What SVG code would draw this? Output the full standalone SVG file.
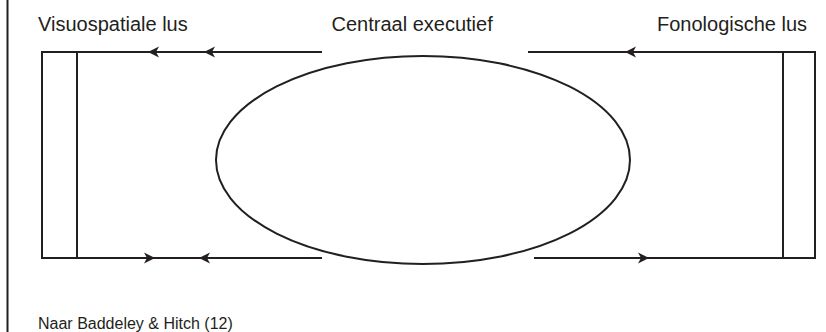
<svg xmlns="http://www.w3.org/2000/svg" xmlns:xlink="http://www.w3.org/1999/xlink" width="826" height="332" viewBox="0 0 826 332">
  <style>
    .ln { stroke: #231f20; stroke-width: 2; fill: none; }
    .lbl { font-family: "Liberation Sans", Arial, sans-serif; font-size: 20px; fill: #231f20; }
    .src { font-family: "Liberation Sans", Arial, sans-serif; font-size: 16px; fill: #231f20; }
    .ah { fill: #231f20; }
  </style>
  <defs>
    <path id="ahL" class="ah" d="M0,0 L11,-5.5 L8,0 L11,5.5 Z"/>
  </defs>
  <rect x="0" y="0" width="826" height="332" fill="#ffffff"/>
  <line class="ln" x1="7.5" y1="0" x2="7.5" y2="332"/>

  <g id="visuospatiale-lus">
    <line class="ln" x1="42" y1="51" x2="42" y2="259"/>
    <line class="ln" x1="77" y1="53" x2="77" y2="258"/>
    <text class="lbl" x="38" y="31">Visuospatiale lus</text>
  </g>

  <g id="centraal-executief">
    <ellipse class="ln" cx="423" cy="160" rx="207" ry="104"/>
    <text class="lbl" x="331.5" y="31">Centraal executief</text>
  </g>

  <g id="fonologische-lus">
    <line class="ln" x1="783" y1="53" x2="783" y2="258"/>
    <line class="ln" x1="815" y1="51" x2="815" y2="259"/>
    <text class="lbl" x="657" y="31">Fonologische lus</text>
  </g>

  <g id="connectors">
    <line class="ln" x1="41" y1="52" x2="322" y2="52"/>
    <line class="ln" x1="41" y1="258" x2="322" y2="258"/>
    <line class="ln" x1="528" y1="52" x2="816" y2="52"/>
    <line class="ln" x1="534" y1="258" x2="816" y2="258"/>
    <use xlink:href="#ahL" transform="translate(148,52)"/>
    <use xlink:href="#ahL" transform="translate(204,52)"/>
    <use xlink:href="#ahL" transform="translate(625,52)"/>
    <use xlink:href="#ahL" transform="translate(155,258) rotate(180)"/>
    <use xlink:href="#ahL" transform="translate(199,258)"/>
    <use xlink:href="#ahL" transform="translate(649,258) rotate(180)"/>
  </g>

  <text class="src" x="38" y="329">Naar Baddeley &amp; Hitch (12)</text>
</svg>
